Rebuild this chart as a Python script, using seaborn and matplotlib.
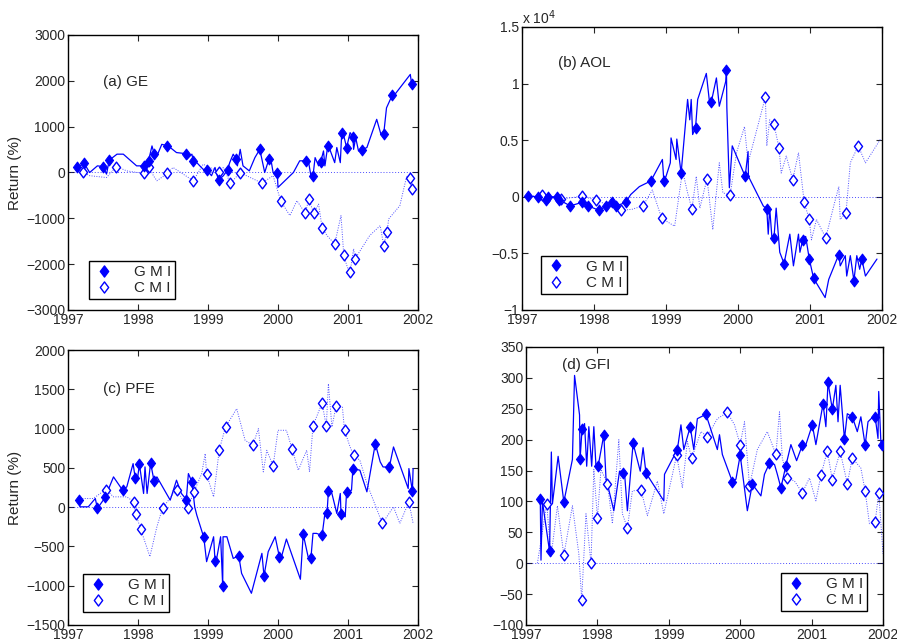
import numpy as np
import matplotlib
matplotlib.use("Agg")
import matplotlib.pyplot as plt
from matplotlib.path import Path
from matplotlib.markers import MarkerStyle
from matplotlib.lines import Line2D
import seaborn as sns

sns.set_style("ticks")
plt.rcParams['font.family'] = ['Liberation Sans', 'DejaVu Sans']
plt.rcParams['axes.unicode_minus'] = True

# ---------------- (a) GE ----------------
ge_gmi_mt = [1997.13, 1997.23, 1997.50, 1997.59, 1998.08, 1998.15, 1998.23, 1998.42, 1998.69, 1998.79,
             1998.98, 1999.15, 1999.28, 1999.40, 1999.74, 1999.87, 1999.99, 2000.40, 2000.50, 2000.61,
             2000.71, 2000.91, 2000.98, 2001.07, 2001.20, 2001.51, 2001.63, 2001.91]
ge_gmi_mv = [110, 200, 130, 270, 145, 255, 410, 580, 410, 255, 60, -165, 60, 295, 505, 290, -20, 255,
             -70, 230, 570, 855, 545, 775, 495, 840, 1680, 1920]
ge_gmi_lt = [1997.31, 1997.42, 1997.55, 1997.70, 1997.79, 1997.98, 1998.20, 1998.27, 1998.34, 1998.46,
             1998.55, 1998.70, 1998.77, 1998.84, 1998.93, 1999.05, 1999.10, 1999.22, 1999.31, 1999.36,
             1999.42, 1999.46, 1999.50, 1999.59, 1999.67, 1999.79, 1999.81, 1999.89, 1999.93, 2000.00,
             2000.22, 2000.31, 2000.43, 2000.47, 2000.53, 2000.58, 2000.65, 2000.67, 2000.74, 2000.81,
             2000.84, 2000.89, 2000.94, 2001.03, 2001.08, 2001.11, 2001.15, 2001.27, 2001.41, 2001.47,
             2001.55, 2001.65, 2001.89]
ge_gmi_lv = [0, 145, -35, 400, 400, 145, 580, 360, 615, 545, 435, 290, 400, 215, 70, -70, 110, -70, 215,
             400, 145, 505, 145, 35, 325, 145, 0, 360, 0, -325, 0, 255, 290, -70, 325, 145, 470, 145,
             505, 215, 545, 215, 800, 870, 505, 760, 470, 545, 1160, 835, 1410, 1665, 2140]
ge_cmi_mt = [1997.22, 1997.69, 1998.08, 1998.16, 1998.42, 1998.79, 1999.16, 1999.32, 1999.45, 1999.77,
             2000.04, 2000.39, 2000.44, 2000.51, 2000.63, 2000.81, 2000.94, 2001.03, 2001.10, 2001.51,
             2001.56, 2001.88, 2001.91]
ge_cmi_mv = [0, 130, -20, 125, -20, -180, 15, -240, -15, -230, -625, -890, -580, -885, -1205, -1560,
             -1810, -2175, -1885, -1595, -1290, -115, -350]
ge_cmi_lt = [1997.13, 1997.31, 1997.55, 1997.84, 1998.22, 1998.27, 1998.50, 1998.93, 1999.22, 1999.55,
             1999.93, 2000.17, 2000.27, 2000.58, 2000.70, 2000.90, 2000.99, 2001.08, 2001.31, 2001.46,
             2001.58, 2001.74, 2001.84]
ge_cmi_lv = [110, -70, -110, 35, -70, -180, 110, 180, 110, -70, -70, -940, -615, -690, -1375, -940,
             -2065, -1665, -1375, -1160, -1015, -725, -70]

# ---------------- (b) AOL (x 10^4) ----------------
aol_gmi_mt = [1997.09, 1997.22, 1997.33, 1997.36, 1997.49, 1997.51, 1997.67, 1997.83, 1997.92, 1998.07,
              1998.17, 1998.25, 1998.31, 1998.44, 1998.79, 1998.97, 1999.21, 1999.41, 1999.63, 1999.84,
              2000.10, 2000.40, 2000.50, 2000.64, 2000.90, 2000.99, 2001.05, 2001.40, 2001.61, 2001.72]
aol_gmi_mv = [0.005, 0, -0.025, 0, 0, -0.025, -0.08, -0.05, -0.08, -0.12, -0.08, -0.05, -0.08, -0.05,
              0.14, 0.14, 0.21, 0.61, 0.84, 1.12, 0.18, -0.11, -0.36, -0.59, -0.38, -0.55, -0.72, -0.51,
              -0.74, -0.55]
aol_gmi_lt = [1998.51, 1998.63, 1998.95, 1999.00, 1999.06, 1999.07, 1999.14, 1999.15, 1999.30, 1999.33,
              1999.35, 1999.37, 1999.44, 1999.56, 1999.60, 1999.70, 1999.74, 1999.83, 1999.845, 1999.88,
              1999.92, 2000.14, 2000.145, 2000.35, 2000.42, 2000.44, 2000.47, 2000.53, 2000.58, 2000.72,
              2000.77, 2000.84, 2000.86, 2000.94, 2001.21, 2001.26, 2001.42, 2001.49, 2001.51, 2001.56,
              2001.65, 2001.69, 2001.77, 2001.93]
aol_gmi_lv = [0.02, 0.09, 0.33, 0.18, 0.30, 0.52, 0.33, 0.51, 0.86, 0.68, 0.86, 0.55, 0.86, 1.09, 0.86,
              1.05, 0.80, 1.02, 0.79, 0.08, 0.45, 0.40, 0.18, -0.08, -0.33, -0.10, -0.35, -0.10, -0.49,
              -0.33, -0.61, -0.33, -0.49, -0.35, -0.89, -0.73, -0.61, -0.52, -0.70, -0.52, -0.52, -0.64,
              -0.70, -0.55]
aol_cmi_mt = [1997.28, 1997.54, 1997.84, 1998.03, 1998.37, 1998.68, 1998.94, 1999.36, 1999.57, 1999.89,
              2000.38, 2000.50, 2000.57, 2000.76, 2000.92, 2000.99, 2001.22, 2001.50, 2001.67]
aol_cmi_mv = [0.02, -0.02, 0.005, -0.03, -0.12, -0.08, -0.19, -0.11, 0.16, 0.015, 0.88, 0.64, 0.43,
              0.15, -0.05, -0.20, -0.36, -0.14, 0.45]
aol_cmi_lt = [1997.09, 1998.53, 1998.81, 1999.12, 1999.23, 1999.30, 1999.42, 1999.47, 1999.65, 1999.74,
              1999.79, 1999.98, 2000.09, 2000.14, 2000.40, 2000.44, 2000.60, 2000.67, 2000.84, 2001.02,
              2001.09, 2001.16, 2001.33, 2001.40, 2001.42, 2001.56, 2001.77, 2001.98]
aol_cmi_lv = [0, -0.11, 0.06, -0.26, 0.23, 0.035, 0.18, -0.10, -0.29, 0.30, 0.035, 0.39, 0.62, 0.30,
              0.45, 0.68, 0.21, 0.36, 0.39, -0.38, -0.20, -0.29, -0.08, 0.09, -0.20, 0.30, 0.30, 0.51]

# ---------------- (c) PFE ----------------
pfe_gmi_mt = [1997.16, 1997.42, 1997.53, 1997.78, 1997.96, 1998.02, 1998.18, 1998.23, 1998.69, 1998.77,
              1998.94, 1999.10, 1999.21, 1999.44, 1999.80, 2000.02, 2000.36, 2000.47, 2000.63, 2000.70,
              2000.72, 2000.90, 2000.98, 2001.07, 2001.39, 2001.59, 2001.92]
pfe_gmi_mv = [97, -17, 123, 216, 372, 546, 563, 330, 97, 322, -385, -681, -1003, -622, -876, -635, -343,
              -652, -360, -80, 203, -89, 195, 491, 808, 508, 203]
pfe_gmi_lt = [1997.17, 1997.29, 1997.39, 1997.65, 1997.84, 1997.93, 1997.99, 1998.08, 1998.10, 1998.13,
              1998.27, 1998.46, 1998.55, 1998.62, 1998.72, 1998.81, 1998.84, 1998.98, 1999.08, 1999.12,
              1999.18, 1999.215, 1999.27, 1999.36, 1999.48, 1999.62, 1999.77, 1999.86, 1999.96, 2000.05,
              2000.12, 2000.32, 2000.43, 2000.50, 2000.55, 2000.67, 2000.77, 2000.84, 2000.89, 2000.96,
              2001.05, 2001.17, 2001.27, 2001.46, 2001.50, 2001.65, 2001.86, 2001.87, 2001.93]
pfe_gmi_lv = [4, 4, 110, 385, 258, 554, 343, 174, 512, 174, 385, 89, 343, 174, 427, 4, -102, -694, -377,
              -673, -377, -377, -377, -652, -843, -1096, -588, -567, -377, -631, -406, -918, -631, -334,
              -334, -80, 174, -80, 174, -123, 216, 470, 195, 576, 512, 766, 237, 491, 491]
pfe_cmi_mt = [1997.54, 1997.94, 1997.97, 1998.04, 1998.35, 1998.55, 1998.71, 1998.80, 1998.98, 1999.16,
              1999.25, 1999.64, 1999.93, 2000.20, 2000.50, 2000.63, 2000.69, 2000.83, 2000.95, 2001.08,
              2001.49, 2001.87]
pfe_cmi_mv = [224, 68, -93, -284, -13, 224, -13, 195, 419, 724, 1020, 787, 525, 745, 1037, 1325, 1029,
              1287, 978, 660, -207, 68]
pfe_cmi_lt = [1997.17, 1997.36, 1997.65, 1997.84, 1998.17, 1998.27, 1998.91, 1998.96, 1999.08, 1999.41,
              1999.53, 1999.72, 1999.79, 1999.84, 2000.00, 2000.12, 2000.29, 2000.41, 2000.45, 2000.72,
              2000.77, 2000.92, 2001.03, 2001.17, 2001.27, 2001.65, 2001.74, 2001.93]
pfe_cmi_lv = [110, 110, 131, 131, -630, -250, 427, 681, 131, 1253, 851, 999, 449, 724, 978, 978, 470,
              724, 449, 1570, 1020, 1274, 766, 597, 300, 4, -207, -207]

# ---------------- (d) GFI ----------------
gfi_gmi_mt = [1997.20, 1997.33, 1997.53, 1997.757, 1997.785, 1998.01, 1998.09, 1998.36, 1998.50, 1998.68,
              1999.12, 1999.30, 1999.52, 1999.89, 2000.00, 2000.17, 2000.41, 2000.57, 2000.64, 2000.87,
              2001.01, 2001.16, 2001.23, 2001.29, 2001.46, 2001.57, 2001.75, 2001.89, 2001.99]
gfi_gmi_mv = [104, 19, 99, 168, 217, 157, 208, 146, 194, 146, 184, 221, 241, 132, 175, 128, 162, 122,
              158, 191, 224, 258, 293, 249, 201, 237, 191, 237, 192]
gfi_gmi_lt = [1997.21, 1997.23, 1997.355, 1997.37, 1997.45, 1997.65, 1997.68, 1997.75, 1997.82, 1997.85,
              1997.88, 1997.92, 1997.95, 1997.98, 1998.12, 1998.23, 1998.31, 1998.38, 1998.42, 1998.60,
              1998.64, 1998.93, 1998.94, 1999.17, 1999.21, 1999.35, 1999.40, 1999.68, 1999.71, 1999.75,
              1999.94, 2000.10, 2000.29, 2000.34, 2000.48, 2000.52, 2000.71, 2000.79, 2000.92, 2001.06,
              2001.20, 2001.34, 2001.37, 2001.40, 2001.50, 2001.64, 2001.69, 2001.79, 2001.86, 2001.93,
              2001.94, 2001.97]
gfi_gmi_lv = [5, 100, 180, 96, 173, 168, 304, 240, 226, 157, 221, 157, 221, 157, 138, 85, 149, 146, 85,
              149, 187, 101, 144, 224, 184, 184, 234, 184, 208, 176, 136, 85, 109, 144, 160, 144, 192,
              166, 192, 192, 221, 288, 229, 288, 242, 213, 237, 229, 237, 202, 278, 197]
gfi_cmi_mt = [1997.29, 1997.53, 1997.78, 1997.91, 1998.00, 1998.14, 1998.42, 1998.61, 1999.11, 1999.32,
              1999.54, 1999.82, 2000.00, 2000.13, 2000.50, 2000.66, 2000.87, 2001.13, 2001.22, 2001.29,
              2001.40, 2001.50, 2001.57, 2001.75, 2001.89, 2001.94]
gfi_cmi_mv = [96, 13, -59, 0, 73, 129, 57, 119, 175, 170, 205, 244, 192, 125, 176, 138, 114, 142, 182,
              135, 181, 129, 170, 117, 66, 114]
gfi_cmi_lt = [1997.16, 1997.35, 1997.44, 1997.65, 1997.74, 1997.84, 1997.95, 1998.05, 1998.21, 1998.30,
              1998.35, 1998.49, 1998.70, 1998.84, 1998.93, 1999.19, 1999.26, 1999.45, 1999.68, 1999.92,
              2000.06, 2000.24, 2000.38, 2000.55, 2000.59, 2000.76, 2000.97, 2001.06, 2001.69, 2001.81,
              2002.00]
gfi_cmi_lv = [0, 10, 93, 93, 15, 80, 152, 152, 64, 200, 80, 117, 77, 133, 80, 122, 197, 213, 234, 224,
              229, 184, 213, 245, 170, 133, 138, 101, 154, 64, 15]

years = [1997, 1998, 1999, 2000, 2001, 2002]
labels = ['G M I', 'C M I']

diamond = MarkerStyle(Path([(0, 1), (0.75, 0), (0, -1), (-0.75, 0), (0, 1)], closed=True))


def merged(lt, lv, mt, mv):
    t = np.concatenate([lt, mt])
    v = np.concatenate([lv, mv])
    order = np.argsort(t, kind='stable')
    return t[order], v[order]


def panel(ax, g, c, ylim, yticks, title, tpos, legpos, legloc, ylabel=False, fmt=None):
    gt, gv = merged(g[0], g[1], g[2], g[3])
    ct, cv = merged(c[0], c[1], c[2], c[3])
    ax.axhline(0, color='blue', ls=(0, (1, 2)), lw=0.7, alpha=0.7)
    sns.lineplot(x=ct, y=cv, sort=False, estimator=None, color='#5050ff', lw=0.7,
                 linestyle=(0, (1, 1.5)), ax=ax)
    sns.lineplot(x=gt, y=gv, sort=False, estimator=None, color='blue', lw=0.9, ax=ax)
    sns.scatterplot(x=c[2], y=c[3], marker=diamond, s=60, color='white', edgecolor='blue',
                    linewidth=1.0, ax=ax, zorder=4)
    sns.scatterplot(x=g[2], y=g[3], marker=diamond, s=60, color='blue', edgecolor='blue',
                    linewidth=0.8, ax=ax, zorder=5)
    ax.set_xlim(1997, 2002)
    ax.set_ylim(*ylim)
    ax.set_xticks(years)
    ax.set_xticklabels([str(y) for y in years])
    ax.set_yticks(yticks)
    if fmt is not None:
        ax.yaxis.set_major_formatter(plt.FuncFormatter(fmt))
    ax.tick_params(direction='in', top=True, right=True, length=4, width=0.8,
                   labelsize=10, pad=2)
    for s in ax.spines.values():
        s.set_visible(True)
        s.set_linewidth(1.0)
        s.set_color('black')
    ax.set_xlabel('')
    ax.set_ylabel('Return (%)' if ylabel else '', fontsize=11, labelpad=3)
    ax.text(tpos[0], tpos[1], title, transform=ax.transAxes, fontsize=11, va='center', ha='left')
    handles = [Line2D([], [], marker=diamond, ls='none', color='blue', mfc='blue', mec='blue', ms=8),
               Line2D([], [], marker=diamond, ls='none', color='blue', mfc='white', mec='blue', ms=8,
                      mew=1.0)]
    leg = ax.legend(handles, labels, loc=legloc, bbox_to_anchor=legpos, frameon=True, fancybox=False,
                    edgecolor='black', framealpha=1, borderaxespad=0, fontsize=11,
                    handletextpad=1.2, borderpad=0.25, labelspacing=0.15, handlelength=1.5)
    leg.get_frame().set_linewidth(1.0)


fig = plt.figure(figsize=(8.97, 6.41), dpi=100)
W, H = 897.0, 641.0
ax_a = fig.add_axes([68 / W, 1 - 310 / H, 350 / W, 275 / H])
ax_b = fig.add_axes([522 / W, 1 - 310 / H, 360 / W, 283 / H])
ax_c = fig.add_axes([68 / W, 1 - 625 / H, 350 / W, 275 / H])
ax_d = fig.add_axes([526 / W, 1 - 625 / H, 357 / W, 278 / H])

panel(ax_a, (ge_gmi_lt, ge_gmi_lv, ge_gmi_mt, ge_gmi_mv), (ge_cmi_lt, ge_cmi_lv, ge_cmi_mt, ge_cmi_mv),
      (-3000, 3000), np.arange(-3000, 3001, 1000), '(a) GE', (0.10, 0.83), (0.06, 0.04), 'lower left',
      ylabel=True)
panel(ax_b, (aol_gmi_lt, aol_gmi_lv, aol_gmi_mt, aol_gmi_mv),
      (aol_cmi_lt, aol_cmi_lv, aol_cmi_mt, aol_cmi_mv),
      (-1, 1.5), [-1, -0.5, 0, 0.5, 1, 1.5], '(b) AOL', (0.10, 0.873), (0.053, 0.057), 'lower left',
      fmt=lambda v, p: ('%g' % v).replace('-', '\u2212'))
ax_b.text(0.0, 1.0, r'x 10$^4$', transform=ax_b.transAxes, fontsize=10, ha='left', va='bottom')
panel(ax_c, (pfe_gmi_lt, pfe_gmi_lv, pfe_gmi_mt, pfe_gmi_mv),
      (pfe_cmi_lt, pfe_cmi_lv, pfe_cmi_mt, pfe_cmi_mv),
      (-1500, 2000), np.arange(-1500, 2001, 500), '(c) PFE', (0.10, 0.858), (0.043, 0.047), 'lower left',
      ylabel=True)
panel(ax_d, (gfi_gmi_lt, gfi_gmi_lv, gfi_gmi_mt, gfi_gmi_mv),
      (gfi_cmi_lt, gfi_cmi_lv, gfi_cmi_mt, gfi_cmi_mv),
      (-100, 350), np.arange(-100, 351, 50), '(d) GFI', (0.10, 0.935), (0.955, 0.05), 'lower right')

fig.savefig('out.png', dpi=100)
